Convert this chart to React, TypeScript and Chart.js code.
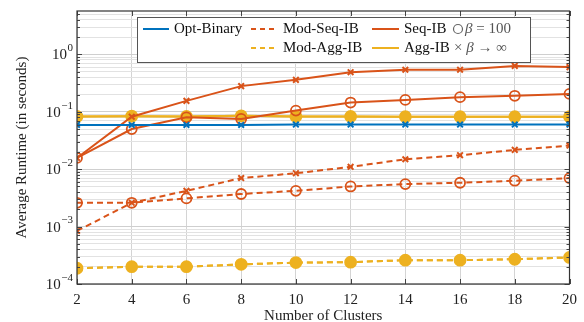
import React, { useEffect, useRef } from "react";
import { Chart, registerables } from "chart.js";

Chart.register(...registerables);

const clusters = [2, 4, 6, 8, 10, 12, 14, 16, 18, 20];
const optBinary = [0.059, 0.059, 0.059, 0.059, 0.06, 0.06, 0.06, 0.06, 0.06, 0.06];
const modSeqBeta100 = [0.0026, 0.0026, 0.0031, 0.0037, 0.0042, 0.005, 0.0055, 0.0058, 0.0063, 0.007];
const modSeqBetaInf = [0.00084, 0.0026, 0.0042, 0.007, 0.0085, 0.011, 0.0149, 0.0175, 0.0217, 0.0258];
const seqBeta100 = [0.0157, 0.05, 0.08, 0.075, 0.105, 0.145, 0.161, 0.18, 0.19, 0.205];
const seqBetaInf = [0.0157, 0.082, 0.155, 0.28, 0.36, 0.49, 0.54, 0.54, 0.63, 0.6];
const modAggBeta100 = [0.000188, 0.0002, 0.0002, 0.00022, 0.000236, 0.00024, 0.00026, 0.00026, 0.00027, 0.00029];
const modAggBetaInf = [0.000188, 0.0002, 0.0002, 0.00022, 0.000236, 0.00024, 0.00026, 0.00026, 0.00027, 0.00029];
const aggBeta100 = [0.083, 0.084, 0.083, 0.085, 0.083, 0.083, 0.082, 0.082, 0.082, 0.082];
const aggBetaInf = [0.083, 0.084, 0.083, 0.085, 0.083, 0.083, 0.082, 0.082, 0.082, 0.082];
const xTicks = [2, 4, 6, 8, 10, 12, 14, 16, 18, 20];
const yMin = 1e-4;
const yMax = 5.7;

const BLUE = "#0072BD";
const ORANGE = "#D95319";
const YELLOW = "#EDB120";
const FONT = "'Liberation Serif', 'Times New Roman', serif";

const isPow10 = (v: number) => Math.abs(Math.log10(v) - Math.round(Math.log10(v))) < 1e-9;
const expOf = (v: number) => {
  const e = Math.round(Math.log10(v));
  return e < 0 ? "−" + String(-e) : String(e);
};

const pts = (arr: number[]) => arr.map((y, i) => ({ x: clusters[i], y }));

const mk = (label: string, data: number[], color: string, dashed: boolean, marker: string, fill?: boolean) => ({
  label,
  data: pts(data),
  borderColor: color,
  backgroundColor: fill ? color : "rgba(0,0,0,0)",
  borderWidth: 2,
  borderDash: dashed ? [6, 4] : [],
  pointStyle: marker,
  pointRadius: marker === "circle" ? (fill ? 5.5 : 5) : 4,
  pointBorderWidth: marker === "circle" ? 1.8 : 2,
  pointBorderColor: color,
  pointBackgroundColor: fill ? color : "rgba(0,0,0,0)",
  tension: 0,
});

const framePlugin = {
  id: "frameLegend",
  afterDraw(chart: any) {
    const { ctx, chartArea } = chart;
    const { left, right, top, bottom } = chartArea;
    ctx.save();
    // inside tick marks
    ctx.strokeStyle = "#444";
    ctx.lineWidth = 1;
    const ys = chart.scales.y;
    ys.ticks.forEach((t: any) => {
      const y = Math.round(ys.getPixelForValue(t.value)) + 0.5;
      const len = isPow10(t.value) ? 5 : 3;
      ctx.beginPath();
      ctx.moveTo(left, y);
      ctx.lineTo(left + len, y);
      ctx.moveTo(right, y);
      ctx.lineTo(right - len, y);
      ctx.stroke();
    });
    // y tick labels as 10^k with a raised exponent
    ys.ticks.forEach((t: any) => {
      if (!isPow10(t.value)) return;
      const y = ys.getPixelForValue(t.value);
      const ex = expOf(t.value);
      ctx.fillStyle = "#222";
      ctx.textBaseline = "middle";
      ctx.textAlign = "right";
      ctx.font = `11px ${FONT}`;
      const ew = ctx.measureText(ex).width;
      const xr = left - 4;
      ctx.fillText(ex, xr, y - 6);
      ctx.font = `15px ${FONT}`;
      ctx.fillText("10", xr - ew - 0.5, y + 1);
    });
    ctx.textAlign = "left";
    const xs = chart.scales.x;
    xs.ticks.forEach((t: any) => {
      const x = Math.round(xs.getPixelForValue(t.value)) + 0.5;
      ctx.beginPath();
      ctx.moveTo(x, bottom);
      ctx.lineTo(x, bottom - 5);
      ctx.moveTo(x, top);
      ctx.lineTo(x, top + 5);
      ctx.stroke();
    });
    // frame
    ctx.strokeStyle = "#333";
    ctx.lineWidth = 1.2;
    ctx.strokeRect(left, top, right - left, bottom - top);

    // legend
    const bx = 137, by = 17, bw = 393, bh = 45;
    ctx.fillStyle = "#fff";
    ctx.fillRect(bx, by, bw, bh);
    ctx.strokeStyle = "#555";
    ctx.lineWidth = 1;
    ctx.strokeRect(bx + 0.5, by + 0.5, bw, bh);
    const rows = [29, 48];
    ctx.font = `15px ${FONT}`;
    ctx.textBaseline = "middle";
    ctx.fillStyle = "#111";
    const line = (x1: number, x2: number, y: number, color: string, dashed: boolean) => {
      ctx.save();
      ctx.strokeStyle = color;
      ctx.lineWidth = 2;
      ctx.setLineDash(dashed ? [5, 4] : []);
      ctx.beginPath();
      ctx.moveTo(x1, y);
      ctx.lineTo(x2, y);
      ctx.stroke();
      ctx.restore();
    };
    line(143, 169, rows[0], BLUE, false);
    ctx.fillText("Opt-Binary", 174, rows[0]);
    line(251, 277, rows[0], ORANGE, true);
    ctx.fillText("Mod-Seq-IB", 283, rows[0]);
    line(251, 277, rows[1], YELLOW, true);
    ctx.fillText("Mod-Agg-IB", 283, rows[1]);
    line(372, 399, rows[0], ORANGE, false);
    ctx.fillText("Seq-IB", 404, rows[0]);
    line(372, 399, rows[1], YELLOW, false);
    ctx.fillText("Agg-IB", 404, rows[1]);
    // marker legend
    ctx.strokeStyle = "#666";
    ctx.lineWidth = 1.2;
    ctx.beginPath();
    ctx.arc(458, rows[0], 4.5, 0, Math.PI * 2);
    ctx.stroke();
    const seg = (parts: [string, boolean][], x: number, y: number) => {
      let cx = x;
      parts.forEach(([txt, it]) => {
        ctx.font = `${it ? "italic " : ""}15px ${FONT}`;
        ctx.fillStyle = "#555";
        ctx.fillText(txt, cx, y);
        cx += ctx.measureText(txt).width;
      });
    };
    seg([["β", true], [" = 100", false]], 465, rows[0]);
    seg([["×", false], [" ", false], ["β", true], [" → ∞", false]], 454, rows[1]);
    ctx.restore();
  },
};

export default function App() {
  const ref = useRef<HTMLCanvasElement | null>(null);
  useEffect(() => {
    if (!ref.current) return;
    const chart = new Chart(ref.current, {
      type: "line",
      data: {
        datasets: [
          mk("Opt-Binary", optBinary, BLUE, false, "crossRot"),
          mk("Mod-Seq-IB β=100", modSeqBeta100, ORANGE, true, "circle"),
          mk("Mod-Seq-IB β→∞", modSeqBetaInf, ORANGE, true, "crossRot"),
          mk("Seq-IB β=100", seqBeta100, ORANGE, false, "circle"),
          mk("Seq-IB β→∞", seqBetaInf, ORANGE, false, "crossRot"),
          mk("Mod-Agg-IB β=100", modAggBeta100, YELLOW, true, "circle", true),
          mk("Mod-Agg-IB β→∞", modAggBetaInf, YELLOW, true, "crossRot"),
          mk("Agg-IB β=100", aggBeta100, YELLOW, false, "circle", true),
          mk("Agg-IB β→∞", aggBetaInf, YELLOW, false, "crossRot"),
        ] as any,
      },
      options: {
        animation: false,
        responsive: false,
        layout: { padding: { top: 11, right: 9, left: 0, bottom: 0 } },
        plugins: { legend: { display: false }, tooltip: { enabled: false } },
        scales: {
          x: {
            type: "linear",
            min: 2,
            max: 20,
            afterBuildTicks: (s: any) => {
              s.ticks = xTicks.map((v) => ({ value: v }));
            },
            afterFit: (s: any) => {
              s.height = 38;
            },
            grid: { color: "#d4d4d4", drawTicks: false, lineWidth: 1 },
            border: { display: false },
            ticks: { font: { family: FONT, size: 15 }, color: "#222", padding: 7, maxRotation: 0 },
            title: {
              display: true,
              text: "Number of Clusters",
              font: { family: FONT, size: 15, lineHeight: 1 },
              color: "#222",
              padding: { top: 0, bottom: -2 },
            },
          },
          y: {
            type: "logarithmic",
            min: yMin,
            max: yMax,
            afterBuildTicks: (s: any) => {
              const t: { value: number }[] = [];
              for (let k = -4; k <= 0; k++) {
                for (let m = 1; m <= 9; m++) {
                  const v = Number((m * Math.pow(10, k)).toPrecision(6));
                  if (v >= yMin && v <= yMax) t.push({ value: v });
                }
              }
              s.ticks = t;
            },
            afterFit: (s: any) => {
              s.width = 77;
            },
            grid: {
              color: (c: any) => (c.tick && isPow10(c.tick.value) ? "#cfcfcf" : "#e2e2e2"),
              drawTicks: false,
              lineWidth: 1,
            },
            border: { display: false },
            ticks: { display: false, autoSkip: false },
            title: {
              display: true,
              text: "Average Runtime (in seconds)",
              font: { family: FONT, size: 15, lineHeight: 1 },
              color: "#222",
              padding: { top: 15, bottom: 0 },
            },
          },
        },
      },
      plugins: [framePlugin],
    });
    return () => chart.destroy();
  }, []);
  return (
    <div style={{ position: "fixed", left: 0, top: 0, width: 584, height: 322, background: "#fff" }}>
      <canvas ref={ref} width={584} height={322} style={{ display: "block" }} />
    </div>
  );
}
